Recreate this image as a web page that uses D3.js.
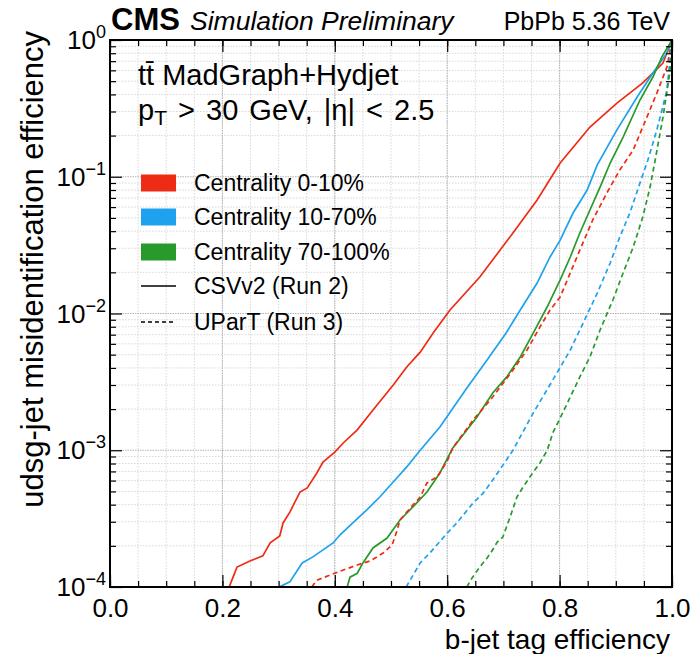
<!DOCTYPE html>
<html>
<head>
<meta charset="utf-8">
<script src="https://cdn.jsdelivr.net/npm/d3@7"></script>
<style>
  body { margin: 0; background: #fff; }
  text { font-family: "Liberation Sans", Arial, Helvetica, sans-serif; fill: #000; }
</style>
</head>
<body>
<svg id="chart"></svg>
<script>
// b-tag ROC curves
var centralities = ["Centrality 0-10%", "Centrality 10-70%", "Centrality 70-100%"];
var taggers = ["CSVv2 (Run 2)", "UParT (Run 3)"];
var xTickLabels = ["0.0", "0.2", "0.4", "0.6", "0.8", "1.0"];
var yTickExponents = ["0", "\u22121", "\u22122", "\u22123", "\u22124"];

// CSVv2 (Run 2)
var csv_0_10_eff = [0.212, 0.219, 0.226, 0.249, 0.272, 0.285, 0.302, 0.308, 0.320, 0.338, 0.351, 0.368, 0.379, 0.400, 0.415, 0.440, 0.468, 0.504, 0.528, 0.552, 0.575, 0.605, 0.658, 0.717, 0.760, 0.801, 0.854, 0.902, 0.948, 0.984, 1.0];
var csv_0_10_mis = [1.0e-4, 1.18e-4, 1.40e-4, 1.55e-4, 1.69e-4, 2.10e-4, 2.36e-4, 2.94e-4, 3.53e-4, 4.95e-4, 5.30e-4, 6.82e-4, 8.20e-4, 9.70e-4, 1.13e-3, 1.41e-3, 1.97e-3, 3.00e-3, 4.06e-3, 5.22e-3, 7.19e-3, 1.06e-2, 1.85e-2, 3.88e-2, 6.76e-2, 0.126, 0.231, 0.346, 0.485, 0.679, 1.0];

var csv_10_70_eff = [0.301, 0.320, 0.342, 0.361, 0.397, 0.409, 0.432, 0.457, 0.480, 0.504, 0.528, 0.552, 0.587, 0.635, 0.671, 0.706, 0.730, 0.760, 0.783, 0.801, 0.824, 0.849, 0.867, 0.902, 0.938, 0.966, 0.991, 1.0];
var csv_10_70_mis = [1.0e-4, 1.09e-4, 1.50e-4, 1.66e-4, 2.10e-4, 2.40e-4, 2.94e-4, 3.66e-4, 4.55e-4, 5.86e-4, 7.55e-4, 1.00e-3, 1.48e-3, 2.85e-3, 4.57e-3, 7.33e-3, 1.06e-2, 1.67e-2, 2.59e-2, 3.44e-2, 5.43e-2, 8.0e-2, 0.122, 0.220, 0.383, 0.574, 0.804, 1.0];

var csv_70_100_eff = [0.422, 0.427, 0.440, 0.450, 0.468, 0.493, 0.516, 0.539, 0.564, 0.587, 0.610, 0.653, 0.681, 0.706, 0.730, 0.753, 0.778, 0.801, 0.819, 0.836, 0.854, 0.872, 0.890, 0.913, 0.943, 0.966, 0.982, 1.0];
var csv_70_100_mis = [1.0e-4, 1.18e-4, 1.26e-4, 1.50e-4, 1.93e-4, 2.28e-4, 3.09e-4, 3.85e-4, 4.95e-4, 6.82e-4, 1.04e-3, 1.75e-3, 2.62e-3, 3.44e-3, 4.81e-3, 7.19e-3, 1.12e-2, 1.76e-2, 2.59e-2, 3.88e-2, 5.71e-2, 8.41e-2, 0.126, 0.195, 0.364, 0.536, 0.752, 1.0];

// UParT (Run 3)
var upart_0_10_eff = [0.359, 0.368, 0.391, 0.415, 0.440, 0.463, 0.486, 0.502, 0.511, 0.516, 0.528, 0.552, 0.564, 0.582, 0.600, 0.610, 0.646, 0.681, 0.717, 0.742, 0.765, 0.783, 0.801, 0.819, 0.836, 0.859, 0.884, 0.907, 0.931, 0.948, 0.973, 0.991, 1.0];
var upart_0_10_mis = [1.0e-4, 1.12e-4, 1.22e-4, 1.33e-4, 1.45e-4, 1.55e-4, 1.77e-4, 2.03e-4, 2.61e-4, 3.09e-4, 3.53e-4, 4.55e-4, 5.77e-4, 6.37e-4, 8.34e-4, 1.04e-3, 1.66e-3, 2.45e-3, 3.86e-3, 5.41e-3, 7.96e-3, 1.06e-2, 1.32e-2, 1.98e-2, 2.91e-2, 4.83e-2, 7.60e-2, 0.112, 0.157, 0.231, 0.409, 0.635, 1.0];

var upart_10_70_eff = [0.527, 0.534, 0.552, 0.569, 0.600, 0.617, 0.646, 0.664, 0.681, 0.717, 0.753, 0.788, 0.819, 0.842, 0.867, 0.890, 0.907, 0.925, 0.943, 0.957, 0.973, 0.991, 1.0];
var upart_10_70_mis = [1.0e-4, 1.12e-4, 1.50e-4, 1.77e-4, 2.48e-4, 2.94e-4, 4.11e-4, 4.86e-4, 6.05e-4, 1.00e-3, 1.87e-3, 3.27e-3, 5.41e-3, 8.53e-3, 1.41e-2, 2.34e-2, 3.62e-2, 5.43e-2, 9.0e-2, 0.132, 0.220, 0.430, 1.0];

var upart_70_100_eff = [0.635, 0.644, 0.658, 0.671, 0.681, 0.689, 0.699, 0.712, 0.724, 0.735, 0.747, 0.765, 0.778, 0.788, 0.801, 0.819, 0.836, 0.854, 0.872, 0.895, 0.913, 0.931, 0.948, 0.961, 0.970, 0.984, 0.996, 1.0];
var upart_70_100_mis = [1.0e-4, 1.16e-4, 1.40e-4, 1.63e-4, 1.87e-4, 2.13e-4, 2.32e-4, 3.25e-4, 4.55e-4, 5.38e-4, 6.37e-4, 8.07e-4, 1.00e-3, 1.34e-3, 1.72e-3, 2.45e-3, 3.44e-3, 4.81e-3, 7.57e-3, 1.26e-2, 1.98e-2, 3.06e-2, 5.08e-2, 8.41e-2, 0.132, 0.274, 0.574, 1.0];

var colors = ["#ee2b14", "#1fa2ee", "#289a2b"];

var curves = [
    {eff: csv_0_10_eff, mis: csv_0_10_mis, c: 0, t: 0},
    {eff: csv_10_70_eff, mis: csv_10_70_mis, c: 1, t: 0},
    {eff: csv_70_100_eff, mis: csv_70_100_mis, c: 2, t: 0},
    {eff: upart_0_10_eff, mis: upart_0_10_mis, c: 0, t: 1},
    {eff: upart_10_70_eff, mis: upart_10_70_mis, c: 1, t: 1},
    {eff: upart_70_100_eff, mis: upart_70_100_mis, c: 2, t: 1}
];

var svgWidth = 695, svgHeight = 654;
var pLeft = 110, pRight = 672, pTop = 40, pBottom = 587;

var svg = d3.select("#chart")
    .attr("width", svgWidth)
    .attr("height", svgHeight);

var x = d3.scaleLinear().domain([0, 1]).range([pLeft, pRight]);
var y = d3.scaleLog().domain([1e-4, 1]).range([pBottom, pTop]);

var xMajor = [0, 0.2, 0.4, 0.6, 0.8, 1.0];
var xMinor = d3.range(0, 21).map(function(i) { return i * 0.05; });
var yMajor = [1, 1e-1, 1e-2, 1e-3, 1e-4];
var yMinor = [];
[1e-4, 1e-3, 1e-2, 1e-1].forEach(function(d) {
    for (var m = 2; m <= 9; m++) yMinor.push(m * d);
});

// grid
var grid = svg.append("g");
grid.selectAll(".gx").data(xMinor).enter().append("line")
    .attr("x1", d => x(d)).attr("x2", d => x(d))
    .attr("y1", pTop).attr("y2", pBottom)
    .attr("stroke", "#d8d8d8").attr("stroke-width", 1).attr("stroke-dasharray", "1.5,1.5");
grid.selectAll(".gy").data(yMinor).enter().append("line")
    .attr("y1", d => y(d)).attr("y2", d => y(d))
    .attr("x1", pLeft).attr("x2", pRight)
    .attr("stroke", "#d8d8d8").attr("stroke-width", 1).attr("stroke-dasharray", "1.5,1.5");
grid.selectAll(".gxm").data(xMajor).enter().append("line")
    .attr("x1", d => x(d)).attr("x2", d => x(d))
    .attr("y1", pTop).attr("y2", pBottom)
    .attr("stroke", "#b4b4b4").attr("stroke-width", 1).attr("stroke-dasharray", "1.5,1");
grid.selectAll(".gym").data(yMajor).enter().append("line")
    .attr("y1", d => y(d)).attr("y2", d => y(d))
    .attr("x1", pLeft).attr("x2", pRight)
    .attr("stroke", "#b4b4b4").attr("stroke-width", 1).attr("stroke-dasharray", "1.5,1");

// curves
var line = d3.line()
    .x(d => x(d[0]))
    .y(d => y(d[1]));

svg.append("clipPath").attr("id", "clip")
    .append("rect").attr("x", pLeft).attr("y", pTop)
    .attr("width", pRight - pLeft).attr("height", pBottom - pTop);

svg.append("g").attr("clip-path", "url(#clip)")
    .selectAll("path").data(curves).enter().append("path")
    .attr("d", d => line(d3.zip(d.eff, d.mis)))
    .attr("fill", "none")
    .attr("stroke", d => colors[d.c])
    .attr("stroke-width", 1.7)
    .attr("stroke-dasharray", d => d.t == 1 ? "5,3.5" : null);

// ticks on all four sides, pointing inward
function ticks(axis, tr) {
    var g = svg.append("g").attr("transform", tr).call(axis);
    g.select(".domain").remove();
    g.selectAll("line").attr("stroke", "#000").attr("stroke-width", 1.2);
}
ticks(d3.axisBottom(x).tickValues(xMajor).tickSize(-12).tickFormat(""), `translate(0,${pBottom})`);
ticks(d3.axisBottom(x).tickValues(xMinor).tickSize(-6).tickFormat(""), `translate(0,${pBottom})`);
ticks(d3.axisTop(x).tickValues(xMajor).tickSize(-12).tickFormat(""), `translate(0,${pTop})`);
ticks(d3.axisTop(x).tickValues(xMinor).tickSize(-6).tickFormat(""), `translate(0,${pTop})`);
ticks(d3.axisLeft(y).tickValues(yMajor).tickSize(-12).tickFormat(""), `translate(${pLeft},0)`);
ticks(d3.axisLeft(y).tickValues(yMinor).tickSize(-6).tickFormat(""), `translate(${pLeft},0)`);
ticks(d3.axisRight(y).tickValues(yMajor).tickSize(-12).tickFormat(""), `translate(${pRight},0)`);
ticks(d3.axisRight(y).tickValues(yMinor).tickSize(-6).tickFormat(""), `translate(${pRight},0)`);

svg.append("rect")
    .attr("x", pLeft).attr("y", pTop)
    .attr("width", pRight - pLeft).attr("height", pBottom - pTop)
    .attr("fill", "none").attr("stroke", "#000").attr("stroke-width", 2);

// tick labels
var xl = svg.append("g").attr("transform", `translate(0,${pBottom})`)
    .call(d3.axisBottom(x).tickValues(xMajor).tickSize(0).tickPadding(12)
        .tickFormat((d, i) => xTickLabels[i]));
xl.select(".domain").remove();
xl.selectAll("text").attr("font-size", 26).attr("font-family", null).attr("fill", "#000");

var yl = svg.append("g").selectAll("text").data(yMajor).enter().append("text")
    .attr("x", 106)
    .attr("y", d => y(d) + 9)
    .attr("text-anchor", "end")
    .attr("font-size", 26);
yl.append("tspan").text("10");
yl.append("tspan").attr("dy", -11).attr("font-size", 18).text((d, i) => yTickExponents[i]);

// axis titles
svg.append("text")
    .attr("x", pRight - 2).attr("y", 649)
    .attr("text-anchor", "end").attr("font-size", 28)
    .text("b-jet tag efficiency");

svg.append("text")
    .attr("transform", "translate(43,31) rotate(-90)")
    .attr("text-anchor", "end").attr("font-size", 31)
    .text("udsg-jet misidentification efficiency");

// header
svg.append("text").attr("x", 111).attr("y", 30)
    .attr("font-size", 31).attr("font-weight", "bold").text("CMS");
svg.append("text").attr("x", 190).attr("y", 30)
    .attr("font-size", 26.5).attr("font-style", "italic").text("Simulation Preliminary");
svg.append("text").attr("x", 670).attr("y", 30)
    .attr("font-size", 25).attr("text-anchor", "end").text("PbPb 5.36 TeV");

// process labels
svg.append("text").attr("x", 138).attr("y", 85)
    .attr("font-size", 29).text("tt\u0304 MadGraph+Hydjet");
var kin = svg.append("text").attr("x", 138).attr("y", 120).attr("font-size", 29);
kin.append("tspan").text("p");
kin.append("tspan").attr("font-size", 21).attr("dy", 5).text("T");
kin.append("tspan").attr("dy", -5).attr("word-spacing", 3).text(" > 30 GeV, |\u03b7| < 2.5");

// legend
var legY = [183, 217, 252, 286, 322];
var leg = svg.append("g");
leg.selectAll("rect").data(centralities).enter().append("rect")
    .attr("x", 141).attr("y", (d, i) => legY[i] - 8.5)
    .attr("width", 35).attr("height", 17)
    .attr("fill", (d, i) => colors[i]);
leg.selectAll(".ll").data(taggers).enter().append("line")
    .attr("x1", 141).attr("x2", 176)
    .attr("y1", (d, i) => legY[3 + i]).attr("y2", (d, i) => legY[3 + i])
    .attr("stroke", "#000").attr("stroke-width", 1.3)
    .attr("stroke-dasharray", (d, i) => i == 1 ? "4,3" : null);
leg.selectAll("text").data(centralities.concat(taggers)).enter().append("text")
    .attr("x", 194).attr("y", (d, i) => legY[i] + 8)
    .attr("font-size", 23)
    .text(d => d);
</script>
</body>
</html>
